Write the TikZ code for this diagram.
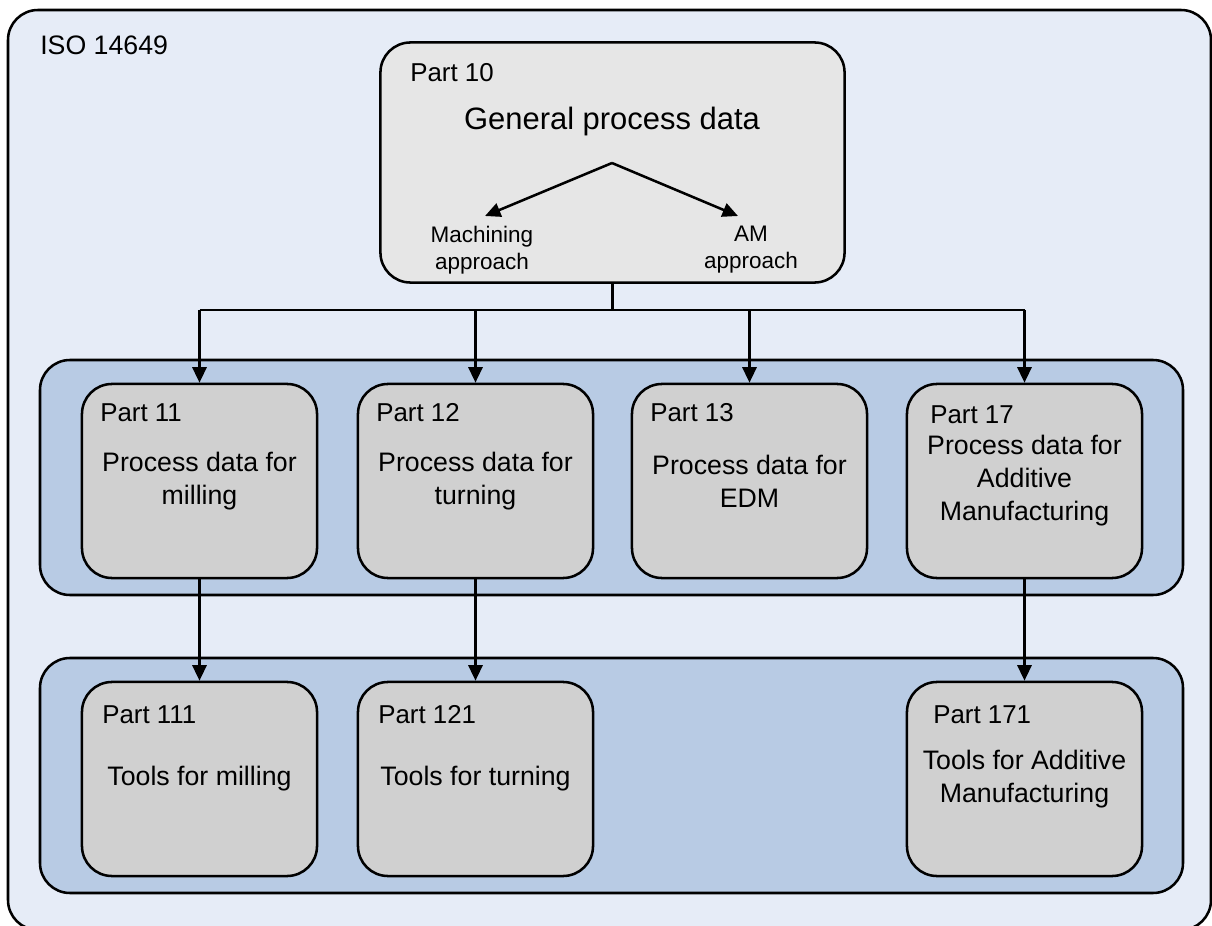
\documentclass[tikz,border=0pt]{standalone}
\usepackage{fontspec}
\setmainfont{Liberation Sans}
\usepackage{tikz}
\usetikzlibrary{arrows.meta,positioning}
\definecolor{IsoBack}{RGB}{230,236,247}
\definecolor{PartBand}{RGB}{184,203,228}
\definecolor{PartFill}{RGB}{208,208,208}
\definecolor{GenFill}{RGB}{230,230,230}

\begin{document}
\begin{tikzpicture}[
    x=0.025cm, y=-0.025cm,
    band/.style={draw, line width=1.8pt, rounded corners=0.75cm, fill=PartBand},
    pbox/.style={draw, line width=1.8pt, rounded corners=0.75cm, fill=PartFill,
                 minimum width=5.875cm, minimum height=4.85cm, align=center,
                 font=\fontsize{19}{23.5}\selectfont},
    plabel/.style={anchor=west, inner sep=0pt, font=\fontsize{18.4}{21}\selectfont},
    small/.style={align=center, inner sep=0pt, font=\fontsize{16}{19}\selectfont},
    arr/.style={-{Triangle[length=11pt, width=10pt]}, line width=1.8pt},
    line/.style={line width=1.8pt}
]
    \useasboundingbox (0,0) rectangle (1212,926);
    \begin{scope}
    \clip (0,0) rectangle (1212,926);
    \draw[line width=1.8pt, rounded corners=0.75cm, fill=IsoBack] (8,10) rectangle (1211,930);
    \end{scope}
    \node[plabel, font=\fontsize{19}{22}\selectfont] (iso) at (40,45) {ISO 14649};

    % general part
    \node[draw, line width=1.8pt, rounded corners=0.75cm, fill=GenFill,
          minimum width=11.6cm, minimum height=6.0cm] (p10) at (612.5,162.5) {};
    \node[plabel] (l10) at (410,73) {Part 10};
    \node[font=\fontsize{22}{26}\selectfont] (gen) at (612,122) {General process data};
    \coordinate (apex) at (612,163);
    \node[small, anchor=north] (mach) at (482,226) {Machining\\approach};
    \node[small, anchor=north] (am) at (751,226) {AM\\approach};
    \draw[arr] (apex) -- (485,216);
    \draw[arr] (apex) -- (738,216);

    % bands
    \draw[band] (40,360) rectangle (1183,595);
    \draw[band] (40,658) rectangle (1183,893);

    % process data parts
    \node[pbox] (p11) at (199.5,481) {Process data for\\milling};
    \node[pbox] (p12) at (475.5,481) {Process data for\\turning};
    \node[pbox] (p13) at (749.5,481) {Process data for\\EDM};
    \node[pbox] (p17) at (1024.5,481) {Process data for\\Additive\\Manufacturing};
    \node[plabel] (l11) at (100,413) {Part 11};
    \node[plabel] (l12) at (376,413) {Part 12};
    \node[plabel] (l13) at (650,413) {Part 13};
    \node[plabel] (l17) at (930,415) {Part 17};

    % tool parts
    \node[pbox] (p111) at (199.5,779) {Tools for milling};
    \node[pbox] (p121) at (475.5,779) {Tools for turning};
    \node[pbox] (p171) at (1024.5,779) {Tools for Additive\\Manufacturing};
    \node[plabel] (l111) at (102,715) {Part 111};
    \node[plabel] (l121) at (378,715) {Part 121};
    \node[plabel] (l171) at (933,715) {Part 171};

    % connectors
    \draw[line] (p10.south) -- ++(0,26) coordinate (split);
    \draw[line] (split -| p11.north) -- (split -| p17.north);
    \draw[arr] (split -| p11.north) -- (p11.north);
    \draw[arr] (split -| p12.north) -- (p12.north);
    \draw[arr] (split -| p13.north) -- (p13.north);
    \draw[arr] (split -| p17.north) -- (p17.north);
    \draw[arr] (p11.south) -- (p111.north);
    \draw[arr] (p12.south) -- (p121.north);
    \draw[arr] (p17.south) -- (p171.north);
\end{tikzpicture}
\end{document}
